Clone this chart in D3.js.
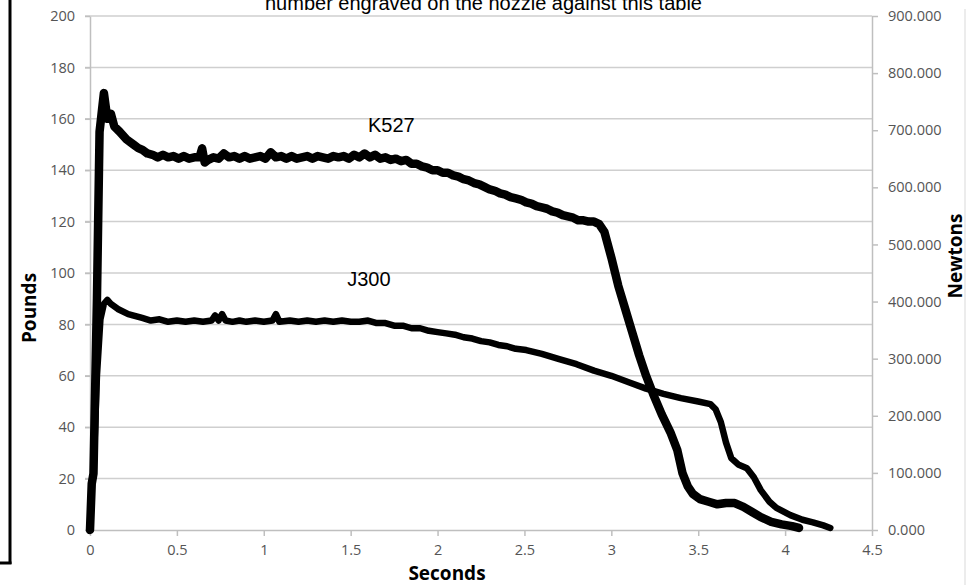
<!DOCTYPE html>
<html>
<head>
<meta charset="utf-8">
<script src="https://cdn.jsdelivr.net/npm/d3@7"></script>
<style>
  body { margin: 0; background: #fff; }
  svg { display: block; }
  .tick text { font-family: "Open Sans", sans-serif; font-size: 14.5px; fill: #555555; }
</style>
</head>
<body>
<div id="chart"></div>
<script>
// thrust curves, [seconds, pounds]
var k527 = [
  [0,0],[0.01,18],[0.02,22],[0.04,90],[0.055,155],[0.065,161],[0.08,170],[0.09,165],
  [0.10,160],[0.12,162],[0.14,157],[0.17,155],[0.21,152],[0.25,150],[0.28,148.5],
  [0.30,148],[0.33,146.5],[0.36,146],[0.39,145],[0.42,146],[0.45,145],[0.48,145.5],
  [0.51,144.5],[0.54,145.5],[0.57,144.5],[0.60,145],[0.63,145],[0.645,148.5],[0.66,143],
  [0.68,144],[0.71,145],[0.74,144.5],[0.77,146.5],[0.80,145],[0.83,145.5],[0.86,144.5],
  [0.89,145.5],[0.92,144.5],[0.95,145],[0.98,145.5],[1.01,144.5],[1.04,147],[1.07,145],
  [1.10,145.5],[1.13,144.5],[1.16,145.5],[1.19,144.5],[1.22,145],[1.25,145.5],[1.28,144.5],
  [1.31,145.5],[1.34,145],[1.37,144.5],[1.40,145.5],[1.43,145],[1.46,145.5],[1.49,144.5],
  [1.52,146],[1.55,145],[1.58,146.5],[1.61,145],[1.64,146],[1.67,144.5],[1.70,145],
  [1.73,144],[1.76,144.5],[1.79,143.5],[1.82,144],[1.85,142.5],[1.88,142.5],[1.91,141.5],
  [1.94,141],[1.97,140],[2.00,140],[2.03,139],[2.06,139],[2.09,138],[2.12,137.5],
  [2.15,136.5],[2.18,136],[2.21,135],[2.24,134.5],[2.27,133.5],[2.30,132.5],[2.33,132],
  [2.36,131],[2.39,130.5],[2.42,129.5],[2.45,129],[2.48,128.5],[2.51,127.5],[2.54,127],
  [2.57,126],[2.60,125.5],[2.63,125],[2.66,124],[2.69,123.5],[2.72,122.5],[2.75,122],
  [2.78,121.5],[2.81,120.5],[2.84,120.5],[2.87,120],[2.90,120],[2.93,119],[2.96,116],
  [3.00,106],[3.04,95],[3.08,86],[3.12,77],[3.16,68],[3.20,60],[3.24,53],[3.29,45],
  [3.34,38],[3.38,31],[3.41,22],[3.44,17],[3.47,14],[3.51,12],[3.56,11],[3.61,10],
  [3.66,10.5],[3.71,10.5],[3.76,9],[3.81,7],[3.86,5],[3.92,3.2],[3.98,2.2],[4.04,1.5],
  [4.08,0.8]
];

var j300 = [
  [0,0],[0.01,18],[0.02,22],[0.04,60],[0.06,82],[0.08,88],[0.10,89.5],[0.12,88],
  [0.16,86],[0.22,84],[0.30,82.5],[0.35,81.5],[0.40,82],[0.45,81],[0.50,81.5],[0.55,81],
  [0.60,81.5],[0.65,81],[0.70,81.5],[0.72,83.5],[0.74,81.5],[0.76,84],[0.78,81.5],
  [0.82,81],[0.86,81.5],[0.90,81],[0.95,81.5],[1.00,81],[1.05,81.5],[1.07,84],[1.09,81],
  [1.15,81.5],[1.20,81],[1.25,81.5],[1.30,81],[1.35,81.5],[1.40,81],[1.45,81.5],
  [1.50,81],[1.55,81],[1.60,81.5],[1.65,80.5],[1.70,80.5],[1.75,79.5],[1.80,79.5],
  [1.85,78.5],[1.90,78.5],[1.95,77.5],[2.00,77],[2.05,76.5],[2.10,76],[2.15,75],
  [2.20,74.5],[2.25,73.5],[2.30,73],[2.35,72],[2.40,71.5],[2.45,70.5],[2.51,70],
  [2.60,68.5],[2.70,66.5],[2.80,64.5],[2.90,62],[3.00,60],[3.10,57.5],[3.20,55],[3.30,53],
  [3.40,51.3],[3.50,50],[3.57,49],[3.60,47],[3.63,42],[3.66,34],[3.69,28],[3.73,25.5],
  [3.78,24],[3.82,20.5],[3.86,15.5],[3.91,11],[3.95,8.6],[4.03,5.8],[4.10,4],[4.16,3],
  [4.22,1.8],[4.26,0.8]
];

var xTicks = [0, 0.5, 1, 1.5, 2, 2.5, 3, 3.5, 4, 4.5];
var poundTicks = [0, 20, 40, 60, 80, 100, 120, 140, 160, 180, 200];
var newtonTicks = [0, 100, 200, 300, 400, 500, 600, 700, 800, 900];

var labels = [
  {name: "K527", t: 1.6, lb: 155},
  {name: "J300", t: 1.48, lb: 95}
];

var title = "number engraved on the nozzle against this table";

var w = 975, h = 585;
var svg = d3.select("#chart").append("svg").attr("width", w).attr("height", h);

var x = d3.scaleLinear().domain([0, 4.5]).range([90, 872]);
var y = d3.scaleLinear().domain([0, 200]).range([530, 16]);
var yN = d3.scaleLinear().domain([0, 900]).range([530, 16]);

// frame bits
svg.append("line").attr("x1", 10).attr("x2", 10).attr("y1", 0).attr("y2", 564)
  .attr("stroke", "#000").attr("stroke-width", 3);
svg.append("line").attr("x1", 0).attr("x2", 11.5).attr("y1", 563).attr("y2", 563)
  .attr("stroke", "#000").attr("stroke-width", 3);
svg.append("line").attr("x1", 965).attr("x2", 965).attr("y1", 9).attr("y2", h)
  .attr("stroke", "#d9d9d9").attr("stroke-width", 1);

// gridlines
svg.append("g").selectAll("line").data(poundTicks.slice(1)).enter().append("line")
  .attr("x1", 85).attr("x2", 872)
  .attr("y1", function(d) { return y(d); }).attr("y2", function(d) { return y(d); })
  .attr("stroke", "#cfcfcf").attr("stroke-width", 1.5);

var styleAxis = function(g) {
  g.select(".domain").attr("stroke", "#bfbfbf").attr("stroke-width", 1.5);
  g.selectAll(".tick line").attr("stroke", "#bfbfbf").attr("stroke-width", 1.5);
};

svg.append("g").attr("transform", "translate(90,0)")
  .call(d3.axisLeft(y).tickValues(poundTicks).tickSize(5).tickSizeOuter(0).tickPadding(10))
  .call(styleAxis);

svg.append("g").attr("transform", "translate(0,530)")
  .call(d3.axisBottom(x).tickValues(xTicks).tickSize(6).tickSizeOuter(0).tickPadding(9)
    .tickFormat(function(d) { return d; }))
  .call(styleAxis);

svg.append("g").attr("transform", "translate(872,0)")
  .call(d3.axisRight(yN).tickValues(newtonTicks).tickSize(6).tickSizeOuter(0).tickPadding(10)
    .tickFormat(d3.format(".3f")))
  .call(styleAxis);

// thrust lines
var line = d3.line()
  .x(function(d) { return x(d[0]); })
  .y(function(d) { return y(d[1]); });

svg.append("path").datum(j300).attr("d", line)
  .attr("fill", "none").attr("stroke", "#000").attr("stroke-width", 6.5)
  .attr("stroke-linejoin", "round").attr("stroke-linecap", "round");
svg.append("path").datum(k527).attr("d", line)
  .attr("fill", "none").attr("stroke", "#000").attr("stroke-width", 8.5)
  .attr("stroke-linejoin", "round").attr("stroke-linecap", "round");

// labels
svg.selectAll(".lbl").data(labels).enter().append("text")
  .attr("class", "lbl")
  .attr("x", function(d) { return x(d.t); })
  .attr("y", function(d) { return y(d.lb); })
  .attr("font-family", "Liberation Sans, Arial, sans-serif")
  .attr("font-size", 20)
  .attr("fill", "#000")
  .text(function(d) { return d.name; });

svg.append("text").attr("x", 265).attr("y", 9.5)
  .attr("font-family", "Liberation Sans, Arial, sans-serif")
  .attr("font-size", 20).attr("fill", "#000")
  .text(title);

// axis titles
var axTitle = function(sel) {
  sel.attr("font-family", "Open Sans, sans-serif").attr("font-weight", "bold")
    .attr("font-size", 19).attr("fill", "#000").attr("text-anchor", "middle");
};
svg.append("text").attr("transform", "translate(36,308) rotate(-90)").call(axTitle).text("Pounds");
svg.append("text").attr("x", 447).attr("y", 580).call(axTitle).text("Seconds");
svg.append("text").attr("transform", "translate(962,256) rotate(-90)").call(axTitle).text("Newtons");
</script>
</body>
</html>
